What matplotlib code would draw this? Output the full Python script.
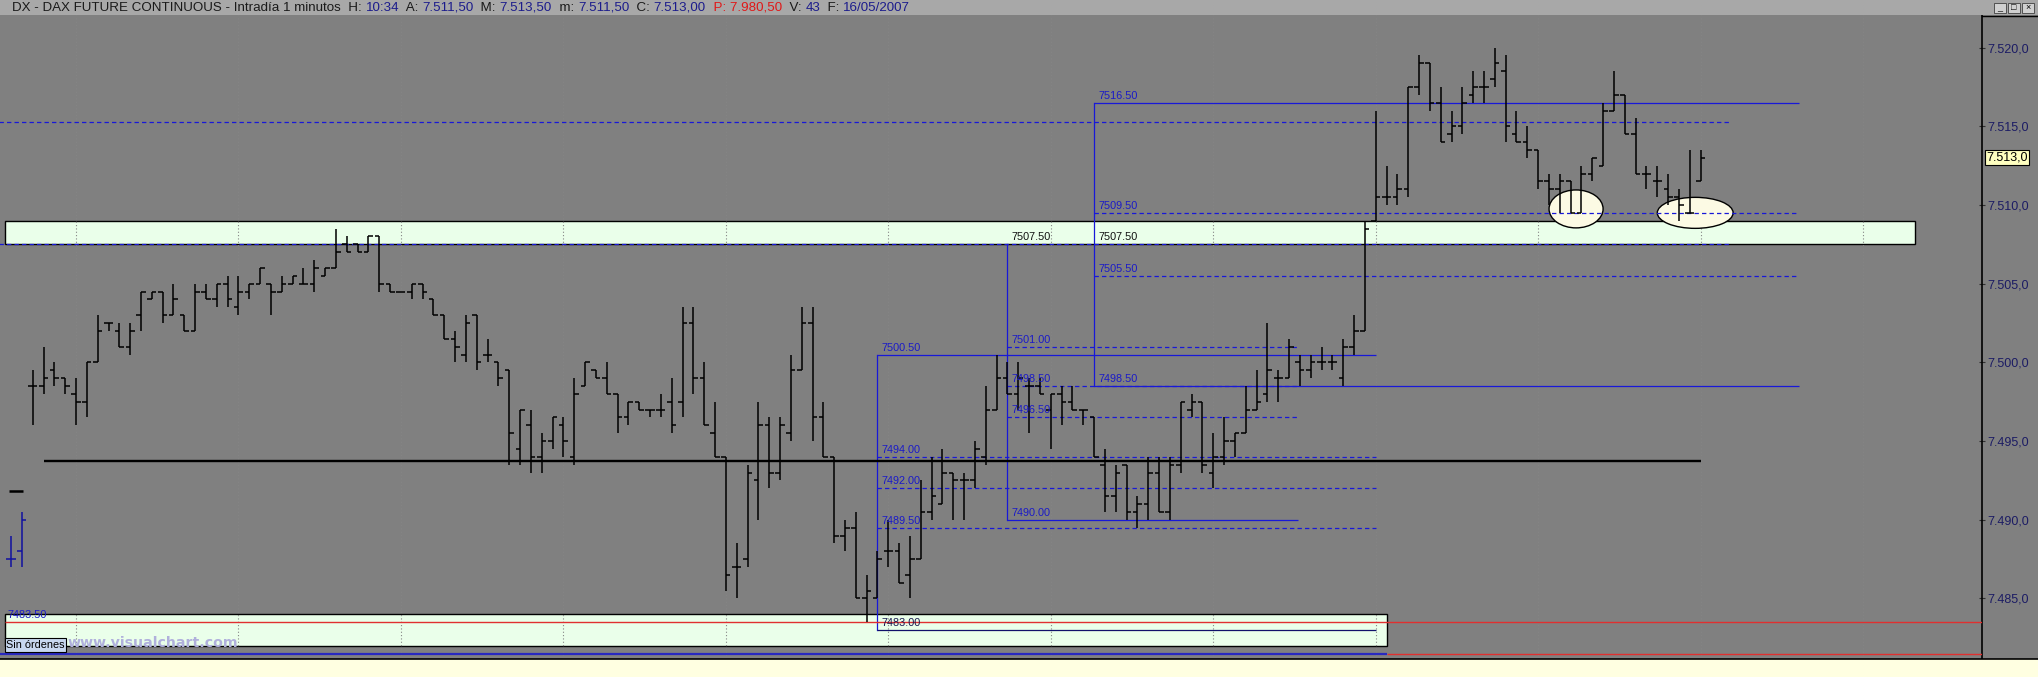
import matplotlib
matplotlib.use('Agg')
import matplotlib.pyplot as plt
from matplotlib.collections import LineCollection
from matplotlib.patches import Rectangle, Ellipse
from matplotlib.lines import Line2D
import matplotlib.transforms as mtransforms

plt.rcParams['font.family'] = ['Liberation Sans', 'DejaVu Sans']

W, H = 2038, 677

# ---------------- data ----------------
bar_minute = list(range(1, 156))   # minutes after 08:00
bar_open = [7498.5, 7498.5, 7499.5, 7499, 7498, 7497.5, 7500, 7502.5, 7502, 7501,
            7503, 7504, 7504.5, 7503, 7503, 7502, 7504.5, 7504, 7505, 7503.5,
            7504.5, 7505, 7505, 7504.5, 7505, 7505, 7505, 7505.5, 7506, 7507.5,
            7507.5, 7507, 7508, 7505, 7504.5, 7504.5, 7505, 7504, 7503, 7501.5,
            7500.5, 7503, 7500.5, 7500, 7499.5, 7494.5, 7496, 7494, 7495, 7496,
            7494, 7498.5, 7499.5, 7499, 7498, 7496.5, 7497.5, 7497, 7497, 7497.5,
            7497.5, 7502.5, 7499, 7495.5, 7494, 7487, 7487.5, 7492.5, 7496, 7493,
            7495.5, 7499.5, 7502.5, 7496.5, 7494, 7489, 7489.5, 7485, 7485, 7488,
            7488, 7486.5, 7487.5, 7490.5, 7491, 7493, 7492.5, 7492.5, 7494, 7497,
            7499, 7498, 7498.5, 7498.5, 7497, 7498, 7497.5, 7497, 7496.5, 7493.5,
            7491.5, 7493.5, 7490.5, 7491, 7493, 7490.5, 7493.5, 7497, 7497.5, 7493,
            7494, 7495, 7495.5, 7497, 7498, 7499, 7499, 7500, 7499.5, 7500,
            7500, 7499, 7501, 7502, 7509, 7510.5, 7510.5, 7511, 7517.5, 7519,
            7516.5, 7514.5, 7515, 7517, 7517.5, 7518, 7518.5, 7514.5, 7514, 7513.5,
            7511.5, 7511, 7511.5, 7509.5, 7512, 7512.5, 7516, 7517, 7514.5, 7512,
            7511.5, 7511, 7510.5, 7509.5, 7511.5]
bar_high = [7499.5, 7501, 7500, 7499, 7499, 7500, 7503, 7502.5, 7502.5, 7502.5,
            7504.5, 7504.5, 7504.5, 7505, 7503, 7505, 7505, 7505, 7505.5, 7505.5,
            7505, 7506, 7505, 7505.5, 7505.5, 7506, 7506.5, 7506, 7508.5, 7508,
            7507.5, 7508, 7508, 7505, 7504.5, 7505, 7505, 7504, 7503, 7502,
            7503, 7503, 7501.5, 7500, 7499.5, 7497, 7497, 7495.5, 7496.5, 7496.5,
            7499, 7500, 7499.5, 7500, 7498, 7497.5, 7497.5, 7497, 7498, 7499,
            7503.5, 7503.5, 7500, 7497.5, 7494, 7488.5, 7493.5, 7497.5, 7496.5, 7496.5,
            7500.5, 7503.5, 7503.5, 7497.5, 7494, 7490, 7490.5, 7486.5, 7488, 7490,
            7488.5, 7489, 7492.5, 7494, 7494.5, 7493, 7493, 7495, 7498.5, 7500.5,
            7500, 7500, 7499, 7499, 7498, 7498.5, 7498.5, 7497, 7496.5, 7494.5,
            7493.5, 7493.5, 7491.5, 7494, 7494, 7494, 7497.5, 7498, 7497.5, 7495.5,
            7496.5, 7495.5, 7498.5, 7499.5, 7502.5, 7499.5, 7501.5, 7500.5, 7500.5, 7501,
            7500.5, 7501.5, 7503, 7509, 7516, 7512.5, 7512, 7517.5, 7519.5, 7519,
            7517.5, 7516, 7517.5, 7518.5, 7518.5, 7520, 7519.5, 7516, 7515, 7513.5,
            7512, 7512, 7511.5, 7512.5, 7513, 7516.5, 7518.5, 7517, 7515.5, 7512.5,
            7512.5, 7512, 7511, 7513.5, 7513.5]
bar_low = [7496, 7498, 7498.5, 7498, 7496, 7496.5, 7500, 7502, 7501, 7500.5,
           7502, 7504, 7502.5, 7503, 7502, 7502, 7504, 7503.5, 7503.5, 7503,
           7504, 7505, 7503, 7504.5, 7505, 7505, 7504.5, 7505.5, 7506, 7507,
           7507, 7507, 7504.5, 7504.5, 7504.5, 7504, 7504, 7503, 7501.5, 7500,
           7500, 7499.5, 7500, 7498.5, 7493.5, 7493.5, 7493, 7493, 7494.5, 7494,
           7493.5, 7498.5, 7499, 7498, 7495.5, 7496, 7497, 7496.5, 7496.5, 7495.5,
           7496.5, 7498, 7496, 7494, 7485.5, 7485, 7487, 7490, 7492, 7492.5,
           7495, 7499.5, 7495, 7494, 7488.5, 7488, 7485, 7483.5, 7485, 7487,
           7486, 7485, 7487.5, 7490, 7491, 7490, 7490, 7492, 7493.5, 7497,
           7498, 7497, 7495.5, 7498, 7494.5, 7496, 7497, 7496, 7494, 7490.5,
           7490.5, 7490, 7489.5, 7490, 7490.5, 7490, 7493, 7496.5, 7493, 7492,
           7493.5, 7494, 7495.5, 7497, 7497.5, 7497.5, 7499, 7498.5, 7499, 7499.5,
           7499.5, 7498.5, 7500.5, 7502, 7509, 7510, 7510, 7510.5, 7517, 7516,
           7514, 7514, 7514.5, 7516.5, 7516.5, 7517.5, 7514, 7514, 7513, 7511,
           7510, 7509.5, 7509.5, 7509.5, 7511.5, 7512.5, 7516, 7514.5, 7512, 7511,
           7510.5, 7510, 7509, 7509.5, 7511.5]
bar_close = [7498.5, 7499, 7499, 7498.5, 7497.5, 7500, 7502, 7502.5, 7501, 7502,
             7504.5, 7504.5, 7503, 7504, 7502, 7504.5, 7504, 7505, 7504, 7504.5,
             7505, 7506, 7504.5, 7505, 7505.5, 7505, 7506, 7506, 7507, 7507,
             7507, 7508, 7505, 7504.5, 7504.5, 7505, 7504.5, 7503, 7501.5, 7501,
             7502.5, 7500, 7500.5, 7499, 7495.5, 7497, 7494, 7495, 7496.5, 7495,
             7498, 7500, 7499, 7498, 7496.5, 7497.5, 7497, 7497, 7497, 7496,
             7502.5, 7499, 7496, 7494, 7486.5, 7487, 7493, 7496, 7493, 7496,
             7499.5, 7502.5, 7496.5, 7494, 7489, 7489.5, 7485, 7485.5, 7487.5, 7488,
             7486, 7487.5, 7490.5, 7491.5, 7493, 7492.5, 7492.5, 7494.5, 7497, 7499,
             7498, 7499, 7498.5, 7498, 7498, 7497.5, 7497, 7497, 7494, 7491.5,
             7493, 7490.5, 7491, 7493, 7490.5, 7493.5, 7497.5, 7497.5, 7493.5, 7494,
             7495, 7495.5, 7497, 7497.5, 7499.5, 7499, 7501, 7499.5, 7500, 7500,
             7500, 7501, 7502, 7508.5, 7510.5, 7510.5, 7511, 7517.5, 7519, 7516.5,
             7514, 7515, 7516.5, 7517.5, 7517.5, 7519, 7515, 7514, 7513.5, 7511.5,
             7511, 7511.5, 7509.5, 7512, 7513, 7516, 7517, 7514.5, 7512, 7512,
             7511.5, 7510.5, 7510, 7509.5, 7513]

# previous-session bars (blue) at the far left
prev_minute = [-1, 0]
prev_open = [7487.5, 7488.0]
prev_high = [7489.0, 7490.5]
prev_low = [7487.0, 7487.0]
prev_close = [7487.5, 7490.0]

price_ticks = [7485, 7490, 7495, 7500, 7505, 7510, 7515, 7520]
time_tick_minutes = [1, 20, 35, 50, 65, 80, 95, 110, 125, 140, 155, 170]
time_tick_labels = ["16/05/07", "08:20", "08:35", "08:50", "09:05", "09:20",
                    "09:35", "09:50", "10:05", "10:20", "10:35", "10:50"]
grid_minutes = [5, 20, 35, 50, 65, 80, 95, 110, 125, 140, 155, 170]
last_price = 7513.0

# drawn study levels: (price, start minute, end minute)
long_dashed = [(7515.25, -2.5, 157.8), (7507.5, -2.5, 157.8)]
box1_minute, box1_end = 79.0, 125.0
box1_solid = [7500.5, 7483.0]
box1_dashed = [7494.0, 7492.0, 7489.5]
box2_minute, box2_end = 91.0, 117.8
box2_top = 7507.5
box2_solid = [7490.0]
box2_dashed = [7501.0, 7498.5, 7496.5]
box3_minute, box3_end = 99.0, 164.1
box3_solid = [7516.5, 7498.5]
box3_dashed = [7509.5, 7505.5]
support_level = 7493.75
upper_zone = (7507.5, 7509.0, -1.56, 174.8)
lower_zone = (7482.0, 7484.0, -1.56, 126.05)
order_level = 7483.5
bottom_level = 7481.5

title_parts = [("DX - DAX FUTURE CONTINUOUS - Intradía 1 minutos  H: ", 'k'), ("10:34", 'b'),
               ("  A: ", 'k'), ("7.511,50", 'b'), ("  M: ", 'k'), ("7.513,50", 'b'),
               ("  m: ", 'k'), ("7.511,50", 'b'), ("  C: ", 'k'), ("7.513,00", 'b'),
               ("  P: 7.980,50", 'r'), ("  V: ", 'k'), ("43", 'b'), ("  F: ", 'k'),
               ("16/05/2007", 'b')]

# ---------------- layout ----------------
GRAY = '#808080'
BLUE = '#1818d8'
TBLUE = '#1a1ac8'
fig = plt.figure(figsize=(W / 100, H / 100), dpi=100)
fig.patch.set_facecolor(GRAY)

def fy(y):
    return 1 - y / H

fig.patches.append(Rectangle((0, fy(15)), 1, 15 / H, transform=fig.transFigure,
                             facecolor='#a8a8a8', edgecolor='none', zorder=0))
fig.patches.append(Rectangle((0, 0), 1, (H - 659) / H, transform=fig.transFigure,
                             facecolor='#ffffe1', edgecolor='none', zorder=0))
fig.add_artist(Line2D([0, 1], [fy(659), fy(659)], color='black', lw=1.2,
                      transform=fig.transFigure))
fig.add_artist(Line2D([1982 / W, 1], [fy(15.5), fy(15.5)], color='black', lw=1.0,
                      transform=fig.transFigure))

ax = fig.add_axes([0, fy(659), 1982 / W, (659 - 15) / H])
ax.set_facecolor(GRAY)
XMIN, XMAX = -2.019, 180.98
YMIN, YMAX = 7481.156, 7522.07
ax.set_xlim(XMIN, XMAX)
ax.set_ylim(YMIN, YMAX)
for s in ['top', 'left', 'bottom']:
    ax.spines[s].set_visible(False)
ax.spines['right'].set_color('black')
ax.spines['right'].set_linewidth(1.2)

# ticks
ax.set_xticks(time_tick_minutes)
ax.set_xticklabels([])
ax.tick_params(axis='x', direction='out', length=8, width=0.8, color='black')
ax.yaxis.tick_right()
ax.set_yticks(price_ticks)
ax.set_yticklabels([f"{int(p) // 1000}.{int(p) % 1000:03d},0" for p in price_ticks])
ax.tick_params(axis='y', direction='inout', length=5, width=0.8, color='#303030',
               labelsize=9, labelcolor='#1c1c64', pad=1)

bt = mtransforms.blended_transform_factory(ax.transData, ax.transAxes)
for m, lab in zip(time_tick_minutes, time_tick_labels):
    ax.text(m + 0.25, -0.004, lab, transform=bt, ha='left', va='top', fontsize=9,
            color='#202020', clip_on=False)

# grid (only shows up on the light zones)
for g in grid_minutes:
    ax.axvline(g, color='#858585', ls=(0, (1, 2)), lw=0.8, zorder=3)

# zones
for (p0, p1, m0, m1) in [upper_zone, lower_zone]:
    ax.add_patch(Rectangle((m0, p0), m1 - m0, p1 - p0, facecolor='#eaffea',
                           edgecolor='black', lw=1.0, zorder=2))

# levels
dash = (0, (3.5, 2.5))
def hline(p, m0, m1, style='-', color=BLUE, lw=0.9, z=5):
    ax.plot([m0, m1], [p, p], color=color, ls=style, lw=lw, zorder=z,
            solid_capstyle='butt')

offs = mtransforms.offset_copy(ax.transData, fig=fig, x=4, y=4, units='dots')
def label(m, p, txt, color=TBLUE):
    ax.text(m, p, txt, transform=offs, fontsize=7.8, color=color, ha='left',
            va='baseline', zorder=7)

for p, m0, m1 in long_dashed:
    hline(p, m0, m1, dash)

# box 1
ax.plot([box1_minute, box1_minute], [box1_solid[1], box1_solid[0]], color=BLUE, lw=0.9, zorder=5)
hline(box1_solid[0], box1_minute, box1_end)
hline(box1_solid[1], box1_minute, box1_end, color='#10106a')
for p in box1_dashed:
    hline(p, box1_minute, box1_end, dash)
for p in box1_solid + box1_dashed:
    label(box1_minute, p, f"{p:.2f}", TBLUE if p != box1_solid[1] else '#181850')

# box 2
ax.plot([box2_minute, box2_minute], [box2_solid[0], box2_top], color=BLUE, lw=0.9, zorder=5)
hline(box2_solid[0], box2_minute, box2_end)
for p in box2_dashed:
    hline(p, box2_minute, box2_end, dash)
label(box2_minute, box2_top, f"{box2_top:.2f}", '#101010')
for p in box2_dashed + box2_solid:
    label(box2_minute, p, f"{p:.2f}")

# box 3
ax.plot([box3_minute, box3_minute], [box3_solid[1], box3_solid[0]], color=BLUE, lw=0.9, zorder=5)
for p in box3_solid:
    hline(p, box3_minute, box3_end)
for p in box3_dashed:
    hline(p, box3_minute, box3_end, dash)
for p in [box3_solid[0], box3_dashed[0], box3_dashed[1], box3_solid[1]]:
    label(box3_minute, p, f"{p:.2f}")
label(box3_minute, box2_top, f"{box2_top:.2f}", '#101010')

# support line
hline(support_level, 2.05, 155.0, '-', 'black', 1.7, 5.5)

# order lines at bottom
hline(order_level, lower_zone[2], XMAX, '-', '#e03030', 1.0, 5)
label(lower_zone[2] - 0.1, order_level, f"{order_level:.2f}")
hline(bottom_level, XMIN, lower_zone[3], '-', '#2828c0', 1.6, 5)
hline(bottom_level, lower_zone[3], XMAX, '-', '#e03030', 1.0, 5)

# ellipses
ax.add_patch(Ellipse((143.5, 7509.75), 4.99, 2.41, facecolor='#fcfae4',
                     edgecolor='black', lw=1.0, zorder=4.5))
ax.add_patch(Ellipse((154.5, 7509.5), 7.0, 1.97, facecolor='#fcfae4',
                     edgecolor='black', lw=1.0, zorder=4.5))

# bars
tw = 0.42
def bar_segments(ms, o, h, l, c):
    segs = []
    for m, oo, hh, ll, cc in zip(ms, o, h, l, c):
        segs.append([(m, ll), (m, hh)])
        segs.append([(m - tw, oo), (m, oo)])
        segs.append([(m, cc), (m + tw, cc)])
    return segs

ax.add_collection(LineCollection(bar_segments(bar_minute, bar_open, bar_high, bar_low, bar_close),
                                 colors='black', linewidths=1.1, zorder=6, capstyle='butt'))
ax.add_collection(LineCollection(bar_segments(prev_minute, prev_open, prev_high, prev_low, prev_close),
                                 colors='#1010a0', linewidths=1.1, zorder=6, capstyle='butt'))
ax.plot([-1.2, 0.1], [7491.85, 7491.85], color='black', lw=1.8, zorder=6, solid_capstyle='butt')

# last price marker on axis
yt = mtransforms.blended_transform_factory(ax.transAxes, ax.transData)
ax.text(1.0022, last_price, "7.513,0", transform=yt, fontsize=9, color='black',
        ha='left', va='center', clip_on=False, zorder=8,
        bbox=dict(boxstyle='square,pad=0.12', facecolor='#ffffc0', edgecolor='black', lw=0.8))

# "Sin órdenes" box and watermark
ax.text(-1.45, 7482.05, "Sin órdenes", fontsize=7.8, color='black', ha='left', va='center',
        zorder=8, bbox=dict(boxstyle='square,pad=0.15', facecolor='#c8d8f0', edgecolor='black', lw=0.8))
ax.text(4.2, 7482.2, "www.visualchart.com", fontsize=10.2, fontweight='bold',
        family='DejaVu Sans', color='#b0b0dc', ha='left', va='center', zorder=8)

# title bar text
renderer = fig.canvas.get_renderer()
cmap = {'k': '#1a1a1a', 'b': '#1c1c8c', 'r': '#e01818'}
x = 12 / W
for txt, col in title_parts:
    t = fig.text(x, fy(8), txt, fontsize=9.6, color=cmap[col], ha='left', va='center')
    bb = t.get_window_extent(renderer)
    x = bb.x1 / W

# window buttons
for i, g in enumerate(['_', '□', '×']):
    x0 = 1994 + i * 14
    fig.patches.append(Rectangle((x0 / W, fy(13)), 12 / W, 10 / H, transform=fig.transFigure,
                                 facecolor='#d0d0d0', edgecolor='#404040', lw=0.6))
    fig.text((x0 + 6) / W, fy(8), g, fontsize=6.5, ha='center', va='center', color='black')

fig.savefig('out.png', dpi=100, facecolor=fig.get_facecolor())
